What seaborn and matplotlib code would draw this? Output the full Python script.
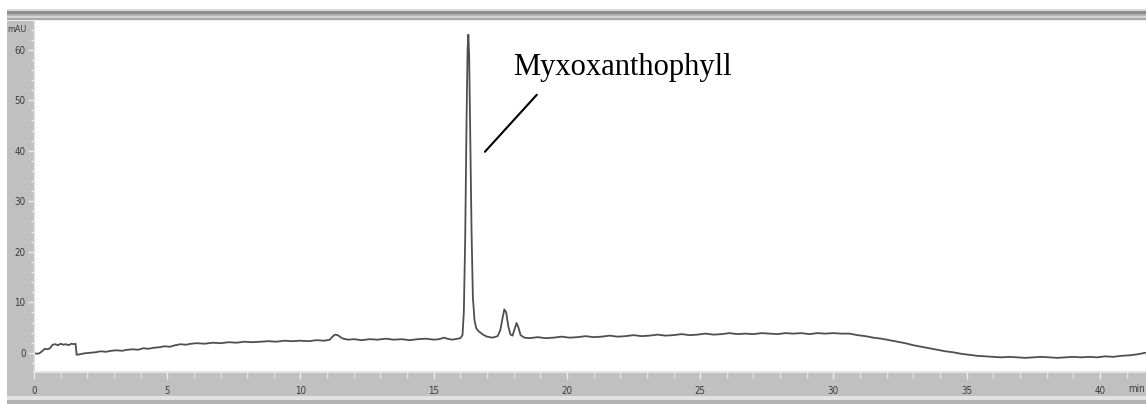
import matplotlib
matplotlib.use("Agg")
import matplotlib.pyplot as plt
from matplotlib.patches import Rectangle
from matplotlib.ticker import MultipleLocator
import seaborn as sns
import pandas as pd

# Retention time (min) and detector response (mAU) of the chromatogram trace
time_min = [
    0.00, 0.10, 0.20, 0.30, 0.40, 0.50, 0.60, 0.70, 0.80, 0.90,
    1.00, 1.10, 1.20, 1.30, 1.40, 1.50, 1.56, 1.60, 1.70, 1.90,
    2.10, 2.30, 2.50, 2.70, 2.90, 3.10, 3.30, 3.50, 3.70, 3.90,
    4.10, 4.30, 4.50, 4.70, 4.90, 5.10, 5.30, 5.50, 5.70, 5.90,
    6.10, 6.40, 6.70, 7.00, 7.30, 7.60, 7.90, 8.20, 8.50, 8.80,
    9.10, 9.40, 9.70, 10.00, 10.30, 10.60, 10.90, 11.10, 11.20, 11.30,
    11.40, 11.50, 11.60, 11.80, 12.00, 12.30, 12.60, 12.90, 13.20, 13.50,
    13.80, 14.10, 14.40, 14.70, 15.00, 15.20, 15.40, 15.50, 15.70, 15.90,
    16.00, 16.08, 16.13, 16.18, 16.23, 16.27, 16.30, 16.33, 16.37, 16.42,
    16.47, 16.53, 16.60, 16.70, 16.85, 17.00, 17.20, 17.40, 17.50, 17.58,
    17.65, 17.72, 17.80, 17.88, 17.96, 18.04, 18.11, 18.18, 18.26, 18.40,
    18.60, 18.90, 19.20, 19.50, 19.80, 20.10, 20.40, 20.70, 21.00, 21.30,
    21.60, 21.90, 22.20, 22.50, 22.80, 23.10, 23.40, 23.70, 24.00, 24.30,
    24.60, 24.90, 25.20, 25.50, 25.80, 26.10, 26.40, 26.70, 27.00, 27.30,
    27.60, 27.90, 28.20, 28.50, 28.80, 29.10, 29.40, 29.70, 30.00, 30.30,
    30.60, 30.90, 31.20, 31.50, 31.80, 32.10, 32.40, 32.70, 33.00, 33.30,
    33.60, 33.90, 34.20, 34.50, 34.80, 35.10, 35.40, 35.70, 36.00, 36.30,
    36.60, 36.90, 37.20, 37.50, 37.80, 38.10, 38.40, 38.70, 39.00, 39.30,
    39.60, 39.90, 40.20, 40.50, 40.80, 41.10, 41.40, 41.70,
]
absorbance_mau = [
    0.0, -0.2, -0.1, 0.3, 0.8, 0.7, 0.9, 1.6, 1.7, 1.5,
    1.8, 1.6, 1.7, 1.5, 1.8, 1.7, 1.8, -0.4, -0.3, -0.1,
    0.0, 0.1, 0.3, 0.2, 0.4, 0.5, 0.4, 0.6, 0.7, 0.6,
    0.9, 0.8, 1.0, 1.1, 1.3, 1.2, 1.5, 1.7, 1.6, 1.8,
    1.9, 1.8, 2.0, 1.9, 2.1, 2.0, 2.2, 2.1, 2.2, 2.3,
    2.2, 2.4, 2.3, 2.4, 2.3, 2.5, 2.4, 2.6, 3.2, 3.6,
    3.5, 3.1, 2.8, 2.6, 2.7, 2.5, 2.7, 2.6, 2.8, 2.6,
    2.7, 2.5, 2.7, 2.8, 2.6, 2.7, 3.0, 2.8, 2.6, 2.8,
    2.9, 3.5, 8.0, 22.0, 45.0, 60.0, 63.0, 59.0, 44.0, 24.0,
    11.0, 6.5, 4.8, 4.2, 3.6, 3.2, 3.0, 3.3, 4.5, 6.8,
    8.6, 8.0, 5.2, 3.6, 3.4, 4.8, 5.9, 5.0, 3.5, 3.0,
    2.9, 3.1, 2.9, 3.0, 3.2, 3.0, 3.1, 3.3, 3.1, 3.2,
    3.4, 3.2, 3.3, 3.5, 3.3, 3.4, 3.6, 3.4, 3.5, 3.7,
    3.5, 3.6, 3.8, 3.6, 3.7, 3.9, 3.7, 3.8, 3.7, 3.9,
    3.8, 3.7, 3.9, 3.8, 3.9, 3.7, 3.9, 3.8, 3.9, 3.8,
    3.8, 3.5, 3.3, 3.0, 2.8, 2.5, 2.2, 1.9, 1.5, 1.2,
    0.9, 0.6, 0.3, 0.1, -0.2, -0.4, -0.6, -0.7, -0.8, -0.9,
    -0.8, -0.9, -1.0, -0.9, -0.8, -0.9, -1.0, -0.9, -0.8, -0.9,
    -0.8, -0.9, -0.7, -0.8, -0.6, -0.5, -0.3, 0.0,
]

x_ticks = [0, 5, 10, 15, 20, 25, 30, 35, 40]
y_ticks = [0, 10, 20, 30, 40, 50, 60]
peak_label = "Myxoxanthophyll"

trace = pd.DataFrame({"time": time_min, "mAU": absorbance_mau})

sns.set_style("white")
W, H = 1146, 404
fig = plt.figure(figsize=(W / 100, H / 100), dpi=100)
fig.patch.set_facecolor("white")


def band(x0, y0, x1, y1, color):
    # rectangle given in pixel coordinates from the top-left corner
    fig.patches.append(Rectangle((x0 / W, 1 - y1 / H), (x1 - x0) / W, (y1 - y0) / H,
                                 transform=fig.transFigure, facecolor=color,
                                 edgecolor="none", zorder=-10))


# window frame
band(7, 9, W, 398, "#c0c0c0")
band(7, 9, W, 11, "#d8d8d8")
band(7, 11, W, 14, "#8c8c8c")
band(7, 14, W, 16, "#b4b4b4")
band(7, 16, W, 18, "#d4d4d4")
band(7, 18, W, 20, "#a8a8a8")
band(7, 20, W, 21, "#f0f0f0")
band(7, 396, W, 400, "#e2e2e2")
band(7, 400, W, H, "#b2b2b2")

ax = fig.add_axes([34 / W, 1 - 372 / H, (W - 34) / W, (372 - 21) / H])
ax.set_zorder(5)
ax.set_facecolor("white")
sns.lineplot(data=trace, x="time", y="mAU", ax=ax, color="#4f4f4f",
             linewidth=1.3, estimator=None, sort=False)

ax.set_xlim(0, 41.73)
ax.set_ylim(-3.8, 65.7)
ax.set_xticks(x_ticks)
ax.set_yticks(y_ticks)
ax.xaxis.set_minor_locator(MultipleLocator(1))
ax.yaxis.set_minor_locator(MultipleLocator(2))
ax.set_xlabel("")
ax.set_ylabel("")

for side in ("top", "right"):
    ax.spines[side].set_visible(False)
ax.spines["left"].set_color("#e4e4e4")
ax.spines["left"].set_linewidth(1.0)
ax.spines["bottom"].set_color("#e4e4e4")
ax.spines["bottom"].set_linewidth(1.5)

ax.tick_params(axis="y", which="major", direction="out", length=4, width=1,
               color="#ececec", labelsize=7, labelcolor="#3a3a3a", pad=2)
ax.tick_params(axis="y", which="minor", direction="out", length=2.5, width=1,
               color="#ececec")
ax.tick_params(axis="x", which="major", direction="out", length=5, width=1,
               color="#ececec", labelsize=7, labelcolor="#3a3a3a", pad=5)
ax.tick_params(axis="x", which="minor", direction="out", length=4, width=1,
               color="#e0e0e0")
ax.yaxis.set_ticks_position("left")
ax.xaxis.set_ticks_position("bottom")
for lbl in ax.get_xticklabels() + ax.get_yticklabels():
    lbl.set_fontstretch("condensed")

# axis unit labels
fig.text(17 / W, 1 - 30 / H, "mAU", ha="center", va="center", fontsize=6.5,
         color="#3a3a3a", fontstretch="condensed", zorder=6)
fig.text(1128 / W, 1 - 389 / H, "min", ha="left", va="center", fontsize=7,
         color="#3a3a3a", fontstretch="condensed", zorder=6)

# peak annotation
ax.plot([16.92, 18.87], [39.8, 51.1], color="black", linewidth=1.5)
ax.text(17.97, 56.4, peak_label, fontsize=22, family="Liberation Serif",
        color="black", ha="left", va="center")

fig.savefig("out.png", dpi=100, facecolor="white")
